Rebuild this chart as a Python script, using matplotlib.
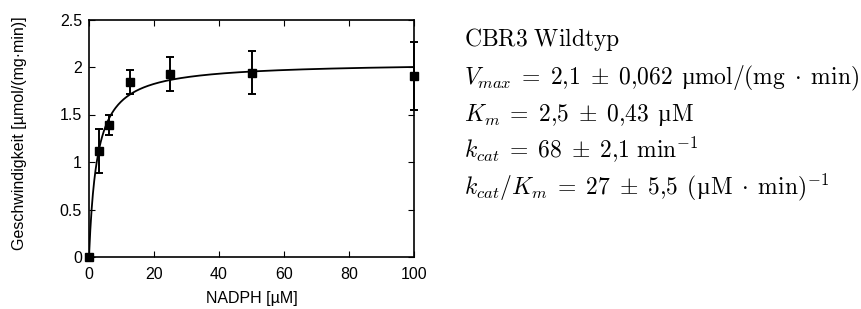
import numpy as np
from matplotlib import pyplot

pyplot.rcParams['font.family'] = ['Liberation Sans', 'DejaVu Sans']
pyplot.rcParams['mathtext.fontset'] = 'cm'

# measured points
nadph = [0, 3.125, 6.25, 12.5, 25, 50, 100]
rate = [0.0, 1.115, 1.39, 1.845, 1.93, 1.94, 1.905]
rate_err = [0.0, 0.235, 0.11, 0.125, 0.18, 0.225, 0.36]

# Michaelis-Menten fit parameters
vmax = 2.05
km = 2.5

# each line: (text, family, gap before in px)
SERIF_MU = 'Liberation Serif'
S = r'\;'
info_lines = [
    [(r'$\mathrm{CBR3\ Wildtyp}$', None, 0)],
    [(rf'$V_{{max}}{S}={S}2{{,}}1{S}\pm{S}0{{,}}062$', None, 0),
     ('µ', SERIF_MU, 8),
     (r'$\mathrm{mol/(mg\;\cdot\;min)}$', None, 0)],
    [(rf'$K_m{S}={S}2{{,}}5{S}\pm{S}0{{,}}43$', None, 0), ('µ', SERIF_MU, 8),
     (r'$\mathrm{M}$', None, 0)],
    [(rf'$k_{{cat}}{S}={S}68{S}\pm{S}2{{,}}1\ \mathrm{{min}}^{{-1}}$', None, 0)],
    [(rf'$k_{{cat}}/K_m{S}={S}27{S}\pm{S}5{{,}}5$', None, 0), (r'$($', None, 8),
     ('µ', SERIF_MU, 0), (r'$\mathrm{M\;\cdot\;min)}^{-1}$', None, 0)],
]

W, H = 861, 309
fig = pyplot.figure(figsize=(W / 100, H / 100), dpi=100)
ax = fig.add_axes([89 / W, 52 / H, 325 / W, 237.5 / H])

x = np.linspace(0, 100, 500)
ax.plot(x, vmax * x / (km + x), color='black', lw=1.3)
ax.errorbar(nadph, rate, yerr=rate_err, fmt='s', color='black', ms=5.5,
            capsize=3, elinewidth=1.4, capthick=1.4, clip_on=False)

ax.set_xlim(0, 100)
ax.set_ylim(0, 2.5)
ax.set_xticks([0, 20, 40, 60, 80, 100])
ax.set_yticks([0, 0.5, 1, 1.5, 2, 2.5])
ax.set_yticklabels(['0', '0.5', '1', '1.5', '2', '2.5'])
ax.tick_params(direction='in', top=True, right=True, length=4.5, width=0.8,
               labelsize=11.5)
ax.tick_params(axis='y', pad=5)
ax.tick_params(axis='x', pad=7)
for s in ax.spines.values():
    s.set_linewidth(1.2)
ax.set_xlabel('NADPH [µM]', fontsize=11.5)
ax.set_ylabel('Geschwindigkeit [µmol/(mg·min)]', fontsize=11.5)
ax.xaxis.set_label_coords(0.5, -0.145)
ax.yaxis.set_label_coords(-0.19, 0.52)

renderer = fig.canvas.get_renderer()
baselines = [46, 84, 121, 157.5, 194]
for parts, base in zip(info_lines, baselines):
    xpos = 464
    for txt, fam, gap in parts:
        xpos += gap
        kw = {'family': fam} if fam else {}
        t = fig.text(xpos / W, 1 - base / H, txt, fontsize=17,
                     va='baseline', ha='left', **kw)
        xpos = t.get_window_extent(renderer=renderer).x1

fig.savefig('out.png', dpi=100)
